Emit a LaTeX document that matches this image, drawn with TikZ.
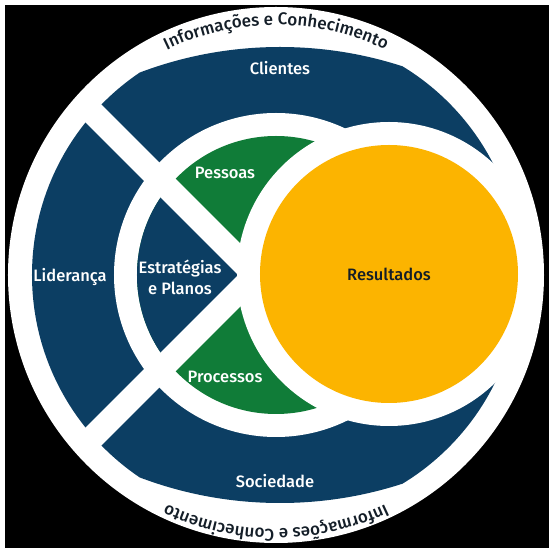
\documentclass[tikz,border=0pt]{standalone}
\usepackage{fontspec}
\setmainfont{Fira Sans}[BoldFont={Fira Sans Medium}]
\usetikzlibrary{decorations.text}
\definecolor{navy}{RGB}{12,62,99}
\definecolor{leaf}{RGB}{16,124,56}
\definecolor{gold}{RGB}{252,180,0}
\definecolor{ink}{RGB}{20,30,40}

\begin{document}
\begin{tikzpicture}[x=1pt,y=1pt,
  lbl/.style={text=white,font=\bfseries\fontsize{16.5}{21}\selectfont,align=center,inner sep=0pt},
  gap/.style={white,line width=24pt},
  band/.style={decorate,decoration={text along path,text align=center,text color=ink,
    text={|\bfseries\fontsize{17}{17}\selectfont|Informações e Conhecimento}}}]
\useasboundingbox (-276,-273) rectangle (273,275);
\fill[white] (-276,-273) rectangle (273,275);
\fill[black] (-271,-273) rectangle (273,270);
% white band with the text
\fill[white] (0,0) circle (268);
% outer ring: Clientes, Lideranca, Sociedade
\begin{scope}
  \clip (0,0) circle (244);
  \clip (4,-168) circle (396);
  \clip (4,168) circle (396);
  \fill[navy] (-250,-250) rectangle (250,250);
\end{scope}
% inner disc
\fill[white] (0,0) circle (162);
\fill[leaf] (0,0) circle (139);
\coordinate (X) at (-21,0);
\begin{scope}
  \clip (0,0) circle (139);
  \fill[navy] (X) -- +(135:300) -- +(225:300) -- cycle;
\end{scope}
% the two diagonal cuts
\begin{scope}
  \clip (0,0) circle (250);
  \draw[gap] (X) -- +(135:300) (X) -- +(225:300);
\end{scope}
% Resultados
\coordinate (Y) at (113,1);
\fill[white] (Y) circle (152);
\fill[gold] (Y) circle (129);

\node[lbl] (cli) at (4,207) {Clientes};
\node[lbl] (lid) at (-206,-2) {Liderança};
\node[lbl] (est) at (-96,-2) {Estratégias\\e Planos};
\node[lbl] (pes) at (-51,102) {Pessoas};
\node[lbl] (pro) at (-51,-102) {Processos};
\node[lbl,text=ink] (res) at (Y) {Resultados};
\node[lbl] (soc) at (-1,-206) {Sociedade};

\path[band] (155:250) arc (155:25:250);
\path[band] (-25:254) arc (-25:-155:254);
\end{tikzpicture}
\end{document}
